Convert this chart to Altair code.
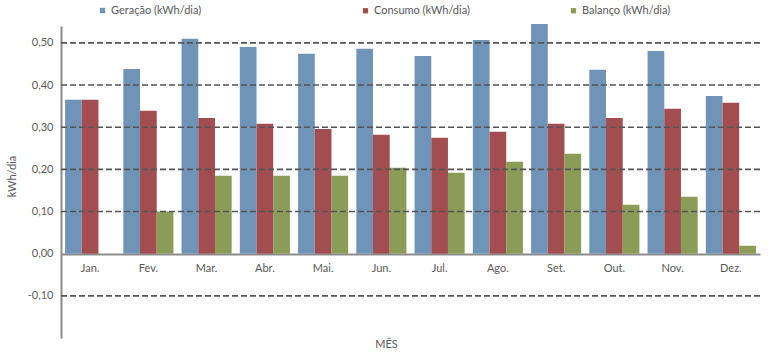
import altair as alt
import pandas as pd

months = ["Jan.", "Fev.", "Mar.", "Abr.", "Mai.", "Jun.", "Jul.", "Ago.", "Set.", "Out.", "Nov.", "Dez."]
series = ["Geração (kWh/dia)", "Consumo (kWh/dia)", "Balanço (kWh/dia)"]
geracao = [0.365, 0.438, 0.510, 0.490, 0.474, 0.486, 0.469, 0.507, 0.545, 0.436, 0.481, 0.374]
consumo = [0.365, 0.339, 0.322, 0.308, 0.296, 0.282, 0.275, 0.289, 0.308, 0.322, 0.344, 0.358]
balanco = [0.000, 0.100, 0.185, 0.185, 0.185, 0.204, 0.192, 0.218, 0.237, 0.116, 0.135, 0.019]
grid_values = [-0.1, 0.1, 0.2, 0.3, 0.4, 0.5]
colors = ["#7094B8", "#A24E50", "#8B9C58"]

rows = []
for i, m in enumerate(months):
    for s, vals in zip(series, [geracao, consumo, balanco]):
        rows.append({"mes": m, "serie": s, "valor": vals[i]})
df = pd.DataFrame(rows)
grid_df = pd.DataFrame({"v": grid_values})

FONT = "Lato"
TXT = "#595959"

x_enc = alt.X("mes:N", sort=months,
              scale=alt.Scale(domain=months, paddingInner=0.14, paddingOuter=0.07),
              axis=alt.Axis(title="MÊS", labelAngle=0, ticks=False, offset=-84,
                            domainColor="#8c8c8c", domainWidth=2,
                            labelFont=FONT, labelFontSize=11, labelColor=TXT, labelPadding=8,
                            titleFont=FONT, titleFontSize=11, titleColor=TXT, titleFontWeight="normal",
                            titleX=325, titleY=90, titleBaseline="middle"))
xo_enc = alt.XOffset("serie:N", scale=alt.Scale(domain=series, paddingInner=0, paddingOuter=0))
y_enc = alt.Y("valor:Q", scale=alt.Scale(domain=[-0.2, 0.54], nice=False, zero=False),
              axis=alt.Axis(title="kWh/dia", values=[-0.1, 0, 0.1, 0.2, 0.3, 0.4, 0.5],
                            labelExpr="replace(replace(format(datum.value, '.2f'), '.', ','), '\u2212', '-')",
                            ticks=False, grid=False, domainColor="#8c8c8c", domainWidth=2,
                            labelFont=FONT, labelFontSize=11, labelColor=TXT, labelPadding=8,
                            titleFont=FONT, titleFontSize=11, titleColor=TXT, titleFontWeight="normal",
                            titleX=-49, titleY=150, titleAlign="center", titleBaseline="middle"))

legend_common = dict(title=None, orient="none", direction="horizontal", padding=0,
                     labelLimit=300, symbolType="square", symbolSize=28, symbolStrokeWidth=0,
                     labelFont=FONT, labelFontSize=11, labelColor=TXT, labelOffset=3)

bars_ger = alt.Chart(df).transform_filter(
    alt.FieldOneOfPredicate(field="serie", oneOf=series[:1])
).mark_bar(stroke=None).encode(
    x=x_enc, xOffset=xo_enc, y=y_enc,
    color=alt.Color("serie:N", scale=alt.Scale(domain=series[:1], range=colors[:1]),
                    legend=alt.Legend(legendX=36, legendY=-21, **legend_common)),
)

bars_rest = alt.Chart(df).transform_filter(
    alt.FieldOneOfPredicate(field="serie", oneOf=series[1:])
).mark_bar(stroke=None).encode(
    x=x_enc, xOffset=xo_enc, y=y_enc,
    fill=alt.Fill("serie:N", scale=alt.Scale(domain=series[1:], range=colors[1:]),
                  legend=alt.Legend(legendX=299, legendY=-21, columnPadding=98, **legend_common)),
)

grid = alt.Chart(grid_df).mark_rule(color="#555555", strokeWidth=1.6, strokeDash=[6, 3]).encode(
    y="v:Q"
)

chart = alt.layer(bars_ger, bars_rest, grid).properties(
    width=699, height=312,
    autosize=alt.AutoSizeParams(type="none"),
    padding={"left": 61, "top": 26, "right": 8, "bottom": 15},
).configure_view(stroke=None)

chart.save("out.html", embed_options={"renderer": "svg", "actions": False})
